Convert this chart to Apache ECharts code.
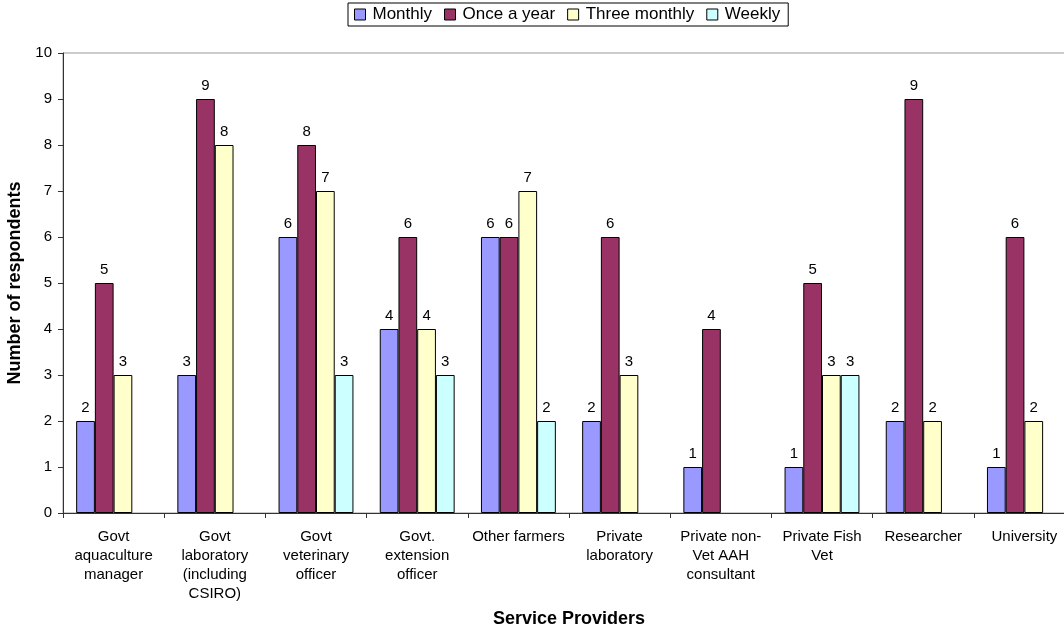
<!DOCTYPE html>
<html>
<head>
<meta charset="utf-8">
<script src="https://cdn.jsdelivr.net/npm/echarts@6/dist/echarts.min.js"></script>
<style>
  html, body { margin: 0; padding: 0; background: #fff; }
  #chart { width: 1064px; height: 629px; }
</style>
</head>
<body>
<div id="chart"></div>
<script>
// Service provider categories (line breaks are the drawn tick labels)
const categories = [
  'Govt\naquaculture\nmanager',
  'Govt\nlaboratory\n(including\nCSIRO)',
  'Govt\nveterinary\nofficer',
  'Govt.\nextension\nofficer',
  'Other farmers',
  'Private\nlaboratory',
  'Private non-\nVet AAH\nconsultant',
  'Private Fish\nVet',
  'Researcher',
  'University'
];

// Number of respondents per frequency (null = no bar)
const monthly      = [2, 3, 6, 4, 6, 2, 1, 1, 2, 1];
const onceAYear    = [5, 9, 8, 6, 6, 6, 4, 5, 9, 6];
const threeMonthly = [3, 8, 7, 4, 7, 3, null, 3, 2, 2];
const weekly       = [null, null, 3, 3, 2, null, null, 3, null, null];

const yTicks = { min: 0, max: 10, interval: 1 };

const FONT = 'Liberation Sans, Arial, sans-serif';

function barSeries(name, data, color) {
  return {
    name: name,
    type: 'bar',
    data: data,
    barGap: '0%',
    barCategoryGap: '26%',
    itemStyle: { color: color, borderColor: '#000', borderWidth: 1 },
    label: {
      show: true,
      position: 'top',
      distance: 6,
      color: '#000',
      fontFamily: FONT,
      fontSize: 15
    }
  };
}

const chart = echarts.init(document.getElementById('chart'), null, { renderer: 'canvas' });
chart.setOption({
  animation: false,
  backgroundColor: '#fff',
  legend: {
    top: 3,
    left: 348,
    padding: [3, 8, 3, 6],
    borderColor: '#000',
    borderWidth: 1,
    itemGap: 12,
    itemWidth: 11,
    itemHeight: 11,
    icon: 'rect',
    textStyle: { fontFamily: FONT, fontSize: 17, color: '#000', padding: [0, 0, 0, 2] },
    itemStyle: { borderColor: '#000', borderWidth: 1 },
    data: ['Monthly', 'Once a year', 'Three monthly', 'Weekly']
  },
  grid: {
    left: 63,
    width: 1012,
    top: 53,
    bottom: 116,
    outerBoundsMode: 'none',
    containLabel: false,
    show: true,
    borderColor: '#999',
    borderWidth: 1
  },
  xAxis: {
    type: 'category',
    data: categories,
    name: 'Service Providers',
    nameLocation: 'middle',
    nameGap: 97,
    nameTextStyle: { fontFamily: FONT, fontSize: 18, fontWeight: 'bold', color: '#000' },
    axisLine: { lineStyle: { color: '#333', width: 1 } },
    axisTick: { show: true, alignWithLabel: false, length: 5, lineStyle: { color: '#333' } },
    axisLabel: {
      interval: 0,
      margin: 14,
      fontFamily: FONT,
      fontSize: 15,
      color: '#000',
      lineHeight: 19
    }
  },
  yAxis: {
    type: 'value',
    min: yTicks.min,
    max: yTicks.max,
    interval: yTicks.interval,
    name: 'Number of respondents',
    nameLocation: 'middle',
    nameGap: 33,
    nameTextStyle: { fontFamily: FONT, fontSize: 18, fontWeight: 'bold', color: '#000' },
    axisLine: { show: true, lineStyle: { color: '#333', width: 1 } },
    axisTick: { show: true, length: 5, lineStyle: { color: '#333' } },
    axisLabel: { fontFamily: FONT, fontSize: 15, color: '#000', margin: 11 },
    splitLine: { show: false }
  },
  series: [
    barSeries('Monthly', monthly, '#9999FF'),
    barSeries('Once a year', onceAYear, '#993366'),
    barSeries('Three monthly', threeMonthly, '#FFFFCC'),
    barSeries('Weekly', weekly, '#CCFFFF')
  ]
});
</script>
</body>
</html>
